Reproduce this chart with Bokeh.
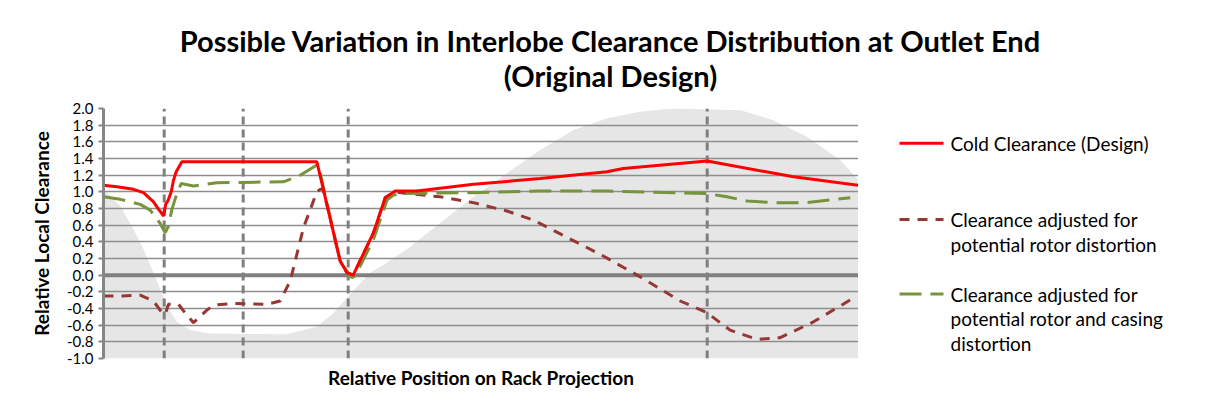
from bokeh.plotting import figure
from bokeh.layouts import column, row
from bokeh.models import Range1d, PrintfTickFormatter, FixedTicker
from bokeh.core.properties import value
from bokeh.embed import file_html
from bokeh.resources import INLINE

# ---- data (x = relative position on rack projection, 0..100) ----
x_cold = [0.00, 1.77, 3.97, 5.30, 6.62, 7.31, 7.97, 8.24, 8.57, 8.97, 9.27, 9.63, 10.38,
          28.26, 31.35, 32.24, 33.07, 35.76, 37.31, 38.64, 41.51, 49.01, 57.84, 66.68,
          68.83, 79.96, 91.39, 99.96]
y_cold = [1.08, 1.06, 1.03, 0.99, 0.88, 0.79, 0.71, 0.85, 0.90, 1.00, 1.14, 1.24, 1.36,
          1.36, 0.17, 0.03, 0.00, 0.51, 0.93, 1.01, 1.01, 1.09, 1.16, 1.24,
          1.28, 1.37, 1.18, 1.08]

x_rotor = [0.00, 2.21, 4.86, 6.62, 7.74, 8.17, 8.61, 9.93, 11.05, 11.92, 13.69, 14.57,
           17.22, 21.64, 23.40, 24.73, 26.49, 28.26, 28.70, 29.10, 31.35, 32.24, 33.07,
           35.76, 37.31, 38.64, 40.19, 44.60, 49.00, 53.43, 56.95, 65.79, 71.09, 76.38,
           79.91, 83.00, 86.54, 89.63, 94.04, 99.79]
y_rotor = [-0.25, -0.25, -0.24, -0.31, -0.45, -0.47, -0.35, -0.35, -0.48, -0.57, -0.42, -0.36,
           -0.34, -0.35, -0.31, -0.07, 0.57, 1.00, 1.03, 1.03, 0.17, 0.03, 0.00,
           0.51, 0.93, 1.00, 0.98, 0.94, 0.87, 0.77, 0.66, 0.25, -0.02, -0.31,
           -0.45, -0.66, -0.77, -0.75, -0.56, -0.25]

x_casing = [0.00, 2.21, 4.86, 6.19, 7.51, 8.17, 8.61, 9.06, 9.72, 10.29, 11.92, 15.02,
            23.84, 26.05, 28.04, 28.44, 31.35, 32.90, 33.34, 35.76, 37.54, 38.41, 39.30,
            48.97, 57.84, 66.68, 79.92, 82.57, 85.22, 88.74, 93.17, 98.91]
y_casing = [0.94, 0.91, 0.85, 0.78, 0.62, 0.51, 0.59, 0.79, 0.98, 1.10, 1.07, 1.11,
            1.12, 1.20, 1.31, 1.33, 0.16, -0.03, -0.01, 0.43, 0.90, 0.96, 0.98,
            0.99, 1.01, 1.01, 0.98, 0.94, 0.89, 0.87, 0.87, 0.93]

x_band = [0.0, 2.2, 3.97, 5.3, 6.62, 7.51, 8.4, 9.71, 11.5, 14.13, 24.3, 28.26, 30.5,
          32.67, 35.3, 37.0, 40.19, 49.0, 57.8, 62.2, 66.6, 71.0, 75.4, 84.4, 88.7,
          93.2, 97.6, 100.0]
y_band = [1.03, 0.83, 0.55, 0.31, 0.03, -0.17, -0.37, -0.56, -0.66, -0.70, -0.71, -0.62, -0.45,
          -0.23, 0.03, 0.12, 0.31, 0.94, 1.5, 1.74, 1.88, 1.96, 2.0, 1.98, 1.86,
          1.66, 1.38, 1.14]

x_markers = [8.04, 18.5, 32.41, 79.96]
y_ticks = [-1.0, -0.8, -0.6, -0.4, -0.2, 0.0, 0.2, 0.4, 0.6, 0.8, 1.0,
           1.2, 1.4, 1.6, 1.8, 2.0]

title_lines = ["Possible Variation in Interlobe Clearance Distribution at Outlet End",
               "(Original Design)"]
names = ["Cold Clearance (Design)",
         "Clearance adjusted for\npotential rotor distortion",
         "Clearance adjusted for\npotential rotor and casing\ndistortion"]
colors = ["#ff0000", "#953735", "#77933c"]
dashes = ["solid", "10 8", "22 9"]

FONT = "Lato"
W, H_TITLE, H_MAIN, W_MAIN = 1193, 100, 291, 858
FRAME_TOP, FRAME_BOTTOM = 108, 360


def bare(width, height, xr, yr):
    f = figure(width=width, height=height, output_backend="svg", toolbar_location=None,
               x_range=xr, y_range=yr, x_axis_location=None, y_axis_location=None,
               min_border=0, title=None)
    f.grid.visible = False
    f.outline_line_color = None
    return f


# ---- title strip (pixel coordinates) ----
pt = bare(W, H_TITLE, Range1d(0, W), Range1d(H_TITLE, 0))
pt.text(x=[610, 610], y=[40, 75], text=title_lines, text_font=value(FONT),
        text_font_style="bold", text_font_size="29px", text_align="center",
        text_baseline="middle", text_color="#000000")

# ---- main chart ----
p = figure(width=W_MAIN, height=H_MAIN, output_backend="svg", toolbar_location=None,
           title=None, x_range=Range1d(0, 100), y_range=Range1d(-1, 2),
           min_border_left=103, min_border_right=0, min_border_top=FRAME_TOP - H_TITLE,
           min_border_bottom=H_TITLE + H_MAIN - FRAME_BOTTOM)
p.outline_line_color = None
p.xgrid.visible = False

xa = p.xaxis[0]
xa.ticker = FixedTicker(ticks=[])
xa.axis_line_color = None
xa.major_tick_line_color = None
xa.minor_tick_line_color = None
xa.axis_label = "Relative Position on Rack Projection"
xa.axis_label_text_font = FONT
xa.axis_label_text_font_style = "bold"
xa.axis_label_text_font_size = "19px"
xa.axis_label_text_color = "#000000"
xa.axis_label_standoff = 7

p.ygrid.ticker = FixedTicker(ticks=y_ticks)
p.ygrid.grid_line_color = "#8e8e8e"
p.ygrid.grid_line_width = 1.5

ax = p.yaxis[0]
ax.ticker = FixedTicker(ticks=y_ticks)
ax.formatter = PrintfTickFormatter(format="%.1f")
ax.axis_line_color = "#868686"
ax.axis_line_width = 3
ax.major_tick_in = 0
ax.major_tick_out = 5
ax.major_tick_line_color = "#868686"
ax.major_tick_line_width = 2
ax.minor_tick_line_color = None
ax.major_label_text_font = FONT
ax.major_label_text_font_size = "15px"
ax.major_label_text_color = "#000000"
ax.axis_label = "Relative Local Clearance"
ax.axis_label_text_font = FONT
ax.axis_label_text_font_style = "bold"
ax.axis_label_text_font_size = "19px"
ax.axis_label_text_color = "#000000"
ax.axis_label_standoff = 11

# grey background band
p.varea(x=x_band, y1=[-1.0] * len(x_band), y2=y_band, fill_color="#e6e6e6", level="image")

# zero line and vertical markers
p.segment(x0=[0], y0=[0], x1=[100], y1=[0], line_color="#808080", line_width=4)
p.segment(x0=x_markers, y0=[-1.0] * len(x_markers), x1=x_markers, y1=[2.0] * len(x_markers),
          line_color="#7f7f7f", line_width=3, line_dash="8 5")

# series
p.line(x_rotor, y_rotor, line_color=colors[1], line_width=3, line_dash=dashes[1])
p.line(x_casing, y_casing, line_color=colors[2], line_width=3, line_dash=dashes[2])
p.line(x_cold, y_cold, line_color=colors[0], line_width=3)

# ---- legend panel (page pixel coordinates; its frame is aligned with the chart frame) ----
pl = bare(W - W_MAIN, H_MAIN, Range1d(W_MAIN, W), Range1d(FRAME_BOTTOM, FRAME_TOP))
entry_y = [143, 220, 295]
line_gap = 25
for name, c, d, ey in zip(names, colors, dashes, entry_y):
    pl.line(x=[899, 943], y=[ey, ey], line_color=c, line_width=3, line_dash=d)
    parts = name.split("\n")
    pl.text(x=[950] * len(parts), y=[ey + i * line_gap for i in range(len(parts))],
            text=parts, text_font=value(FONT), text_font_size="19px",
            text_align="left", text_baseline="middle", text_color="#000000")

layout = column(pt, row(p, pl, spacing=0), spacing=0)
open("out.html", "w").write(file_html(layout, INLINE))
